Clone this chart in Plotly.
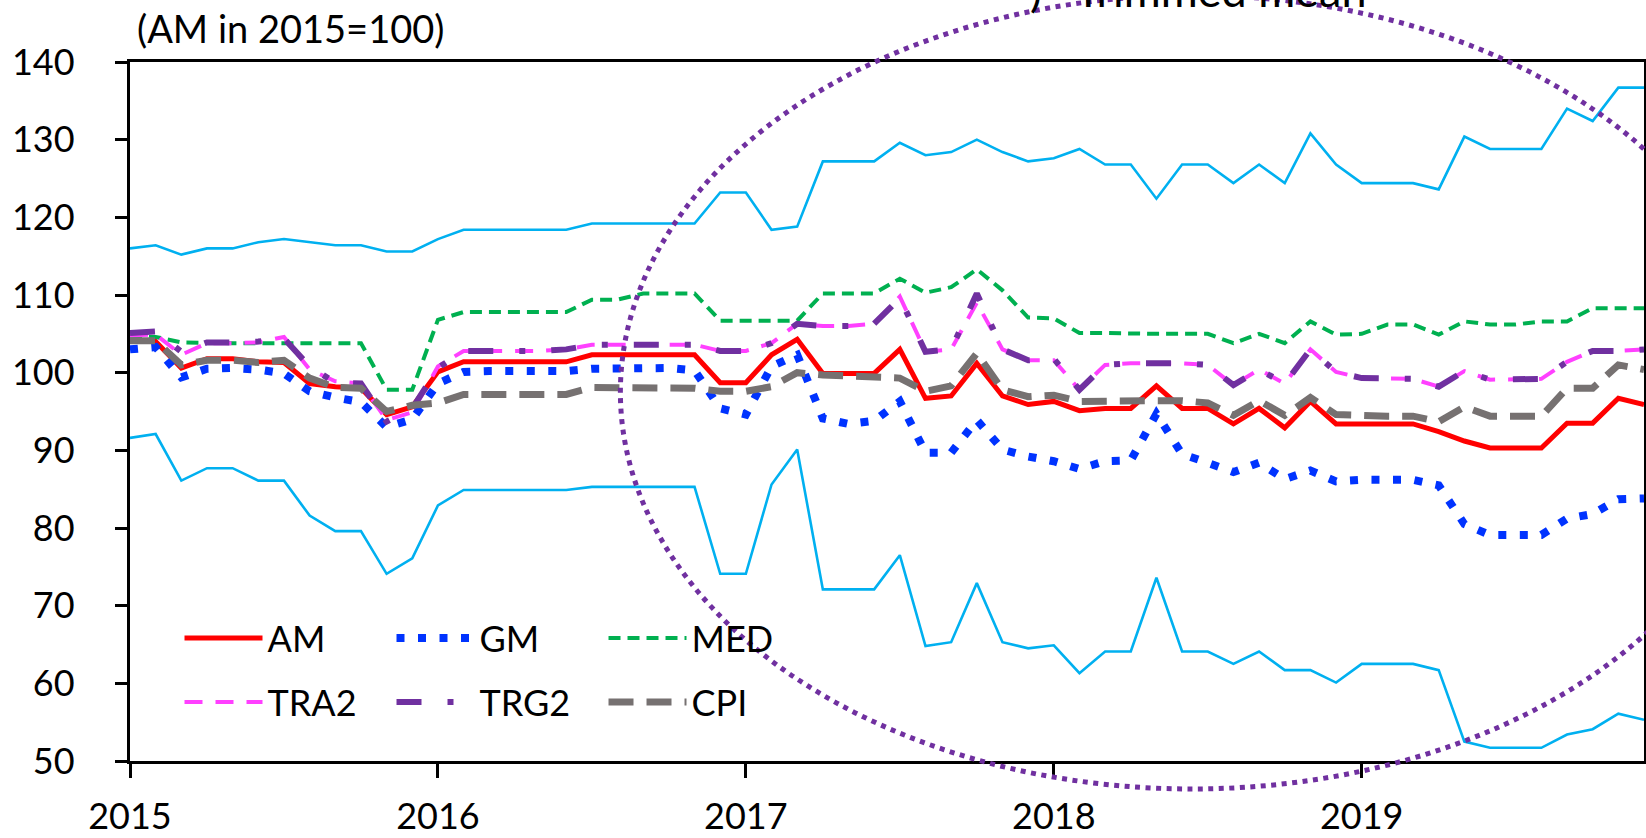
import plotly.graph_objects as go

months = list(range(60))
year_ticks = [0, 12, 24, 36, 48]
year_labels = ["2015", "2016", "2017", "2018", "2019"]

am = [104.0, 104.0, 100.6, 101.8, 101.8, 101.4, 101.3, 98.6, 98.2, 98.0,
      94.6, 95.6, 100.1, 101.4, 101.4, 101.4, 101.4, 101.4, 102.3, 102.3,
      102.3, 102.3, 102.3, 98.7, 98.7, 102.3, 104.3, 99.9, 99.9, 99.9,
      103.0, 96.7, 97.0, 101.2, 97.0, 95.9, 96.3, 95.1, 95.4, 95.4,
      98.3, 95.4, 95.4, 93.4, 95.4, 92.9, 96.3, 93.4, 93.4, 93.4,
      93.4, 92.4, 91.2, 90.3, 90.3, 90.3, 93.5, 93.5, 96.7, 95.9]

gm = [103.0, 103.3, 99.4, 100.5, 100.6, 100.4, 99.9, 97.6, 96.8, 96.2,
      93.0, 94.0, 98.6, 100.1, 100.2, 100.2, 100.2, 100.2, 100.5, 100.6,
      100.6, 100.6, 100.3, 95.4, 94.6, 100.8, 102.3, 94.1, 93.4, 93.8,
      96.3, 89.7, 89.7, 93.9, 90.1, 89.2, 88.6, 87.6, 88.6, 88.7,
      94.7, 89.5, 88.4, 87.2, 88.4, 86.3, 87.4, 86.0, 86.2, 86.2,
      86.2, 85.5, 80.5, 79.1, 79.1, 79.1, 81.2, 81.8, 83.7, 83.8]

med = [104.6, 104.6, 103.9, 103.8, 103.8, 103.8, 103.8, 103.8, 103.8, 103.8,
       97.8, 97.8, 106.8, 107.8, 107.8, 107.8, 107.8, 107.8, 109.4, 109.4,
       110.2, 110.2, 110.2, 106.7, 106.7, 106.7, 106.7, 110.2, 110.2, 110.2,
       112.1, 110.3, 111.0, 113.3, 110.6, 107.1, 107.0, 105.1, 105.1, 105.0,
       105.0, 105.0, 105.0, 103.8, 105.0, 103.8, 106.6, 104.9, 105.0, 106.2,
       106.2, 104.9, 106.6, 106.2, 106.2, 106.6, 106.6, 108.3, 108.3, 108.3]

tra2 = [104.8, 104.9, 102.3, 103.8, 103.8, 103.9, 104.6, 100.4, 98.9, 98.6,
        93.9, 94.9, 100.8, 102.8, 102.8, 102.8, 102.8, 103.0, 103.6, 103.6,
        103.6, 103.6, 103.6, 102.8, 102.8, 103.8, 106.3, 106.0, 106.0, 106.3,
        109.8, 102.7, 103.0, 109.0, 103.0, 101.6, 101.6, 97.8, 101.0, 101.2,
        101.2, 101.2, 101.0, 98.4, 100.4, 98.6, 103.0, 100.1, 99.3, 99.3,
        99.2, 98.2, 100.2, 99.1, 99.2, 99.2, 101.4, 102.8, 102.8, 103.0]

trg2 = [105.1, 105.3, 102.7, 103.9, 103.9, 104.0, 104.4, 100.8, 98.7, 98.6,
        93.7, 95.4, 100.6, 102.8, 102.8, 102.8, 102.8, 103.0, 103.6, 103.6,
        103.6, 103.6, 103.6, 102.8, 102.8, 103.8, 106.3, 106.0, 106.0, 106.3,
        109.6, 102.7, 103.0, 110.2, 103.0, 101.6, 101.8, 97.8, 101.0, 101.2,
        101.2, 101.2, 101.0, 98.4, 100.4, 98.6, 103.0, 100.1, 99.3, 99.3,
        99.2, 98.2, 100.2, 99.1, 99.2, 99.2, 101.4, 102.8, 102.8, 103.0]

cpi = [104.1, 104.1, 101.0, 101.6, 101.6, 101.3, 101.6, 99.3, 98.1, 98.0,
       95.0, 95.8, 96.1, 97.2, 97.2, 97.2, 97.2, 97.2, 98.1, 98.1,
       98.0, 98.0, 98.0, 97.6, 97.6, 98.2, 100.0, 99.7, 99.6, 99.6,
       99.3, 97.6, 98.3, 102.5, 97.8, 96.9, 97.1, 96.3, 96.4, 96.4,
       96.4, 96.4, 96.1, 94.5, 96.4, 94.5, 96.8, 94.6, 94.4, 94.4,
       94.4, 93.7, 95.6, 94.4, 94.4, 94.4, 98.0, 98.0, 101.0, 100.4]

max_v = [116.0, 116.4, 115.2, 116.0, 116.0, 116.8, 117.2, 116.8, 116.4, 116.4,
         115.6, 115.6, 117.2, 118.4, 118.4, 118.4, 118.4, 118.4, 119.2, 119.2,
         119.2, 119.2, 119.2, 123.2, 123.2, 118.4, 118.8, 127.2, 127.2, 127.2,
         129.6, 128.0, 128.4, 130.0, 128.4, 127.2, 127.6, 128.8, 126.8, 126.8,
         122.4, 126.8, 126.8, 124.4, 126.8, 124.4, 130.8, 126.8, 124.4, 124.4,
         124.4, 123.6, 130.4, 128.8, 128.8, 128.8, 134.0, 132.4, 136.7, 136.7]

min_v = [91.6, 92.1, 86.1, 87.7, 87.7, 86.1, 86.1, 81.6, 79.6, 79.6,
         74.1, 76.1, 82.9, 84.9, 84.9, 84.9, 84.9, 84.9, 85.3, 85.3,
         85.3, 85.3, 85.3, 74.1, 74.1, 85.6, 90.1, 72.1, 72.1, 72.1,
         76.5, 64.8, 65.3, 72.9, 65.3, 64.5, 64.9, 61.3, 64.1, 64.1,
         73.6, 64.1, 64.1, 62.5, 64.1, 61.7, 61.7, 60.1, 62.5, 62.5,
         62.5, 61.7, 52.5, 51.7, 51.7, 51.7, 53.4, 54.1, 56.1, 55.3]

FONT = "Lato, 'Liberation Sans', Arial, sans-serif"

fig = go.Figure()

# range lines (max / min)
for vals in (max_v, min_v):
    fig.add_trace(go.Scatter(x=months, y=vals, mode="lines", showlegend=False,
                             line=dict(color="#00B0F0", width=2.6), hoverinfo="skip"))

fig.add_trace(go.Scatter(x=months, y=am, mode="lines", name="AM", legend="legend",
                         line=dict(color="#FF0000", width=5)))
fig.add_trace(go.Scatter(x=months, y=gm, mode="lines", name="GM", legend="legend",
                         line=dict(color="#0033FF", width=8, dash="8px,13.5px")))
fig.add_trace(go.Scatter(x=months, y=med, mode="lines", name="MED", legend="legend",
                         line=dict(color="#00B050", width=4, dash="12px,7px")))
fig.add_trace(go.Scatter(x=months, y=tra2, mode="lines", name="TRA2", legend="legend2",
                         line=dict(color="#FF40FF", width=4, dash="18px,13px")))
fig.add_trace(go.Scatter(x=months, y=trg2, mode="lines", name="TRG2", legend="legend2",
                         line=dict(color="#7030A0", width=6, dash="25px,26px,6px,26px")))
fig.add_trace(go.Scatter(x=months, y=cpi, mode="lines", name="CPI", legend="legend2",
                         line=dict(color="#767171", width=7, dash="25px,13px")))

legend_common = dict(orientation="h", font=dict(family=FONT, size=36, color="black"),
                     bgcolor="rgba(0,0,0,0)", entrywidth=119, entrywidthmode="pixels",
                     itemwidth=78, xanchor="left", yanchor="middle", itemclick=False,
                     tracegroupgap=0, traceorder="normal")

fig.update_layout(
    width=1646, height=838,
    margin=dict(l=129.5, r=2, t=61.7, b=77, autoexpand=False),
    paper_bgcolor="white", plot_bgcolor="white",
    font=dict(family=FONT, size=36, color="black"),
    legend=dict(x=0.0327, y=0.176, **legend_common),
    legend2=dict(x=0.0327, y=0.0844, **legend_common),
    xaxis=dict(range=[0, 59], tickvals=year_ticks, ticktext=year_labels,
               showgrid=False, zeroline=False, showline=True, linecolor="black",
               linewidth=2.5, mirror=True, ticks="outside", ticklen=14, tickwidth=2.5,
               tickcolor="black", ticklabelstandoff=8, tickfont=dict(family=FONT, size=36)),
    yaxis=dict(range=[50, 140], dtick=10, tick0=50,
               showgrid=False, zeroline=False, showline=True, linecolor="black",
               linewidth=2.5, mirror=True, ticks="outside", ticklen=12.5, tickwidth=2.5,
               tickcolor="black", ticklabelstandoff=33, tickfont=dict(family=FONT, size=36)),
    shapes=[dict(type="circle", xref="paper", yref="paper",
                 x0=0.3239, x1=1.0792, y0=-0.040, y1=1.0954,
                 line=dict(color="#7030A0", width=5, dash="5px,5.5px"),
                 fillcolor="rgba(0,0,0,0)", layer="above")],
    annotations=[
        dict(text="(AM in 2015=100)", xref="paper", yref="paper", x=0.003, y=1.048,
             xanchor="left", yanchor="middle", showarrow=False,
             font=dict(family=FONT, size=38, color="black")),
        dict(text=")", xref="paper", yref="paper", x=0.5933, y=1.1031,
             xanchor="left", yanchor="middle", showarrow=False,
             font=dict(family=FONT, size=45, color="black")),
        dict(text="Trimmed mean", xref="paper", yref="paper", x=0.6230, y=1.1031,
             xanchor="left", yanchor="middle", showarrow=False,
             font=dict(family=FONT, size=45, color="black")),
    ],
)

fig.write_html("out.html",
               config={"displayModeBar": False},
               post_script="document.body.style.margin='0';document.body.style.overflow='hidden';")
